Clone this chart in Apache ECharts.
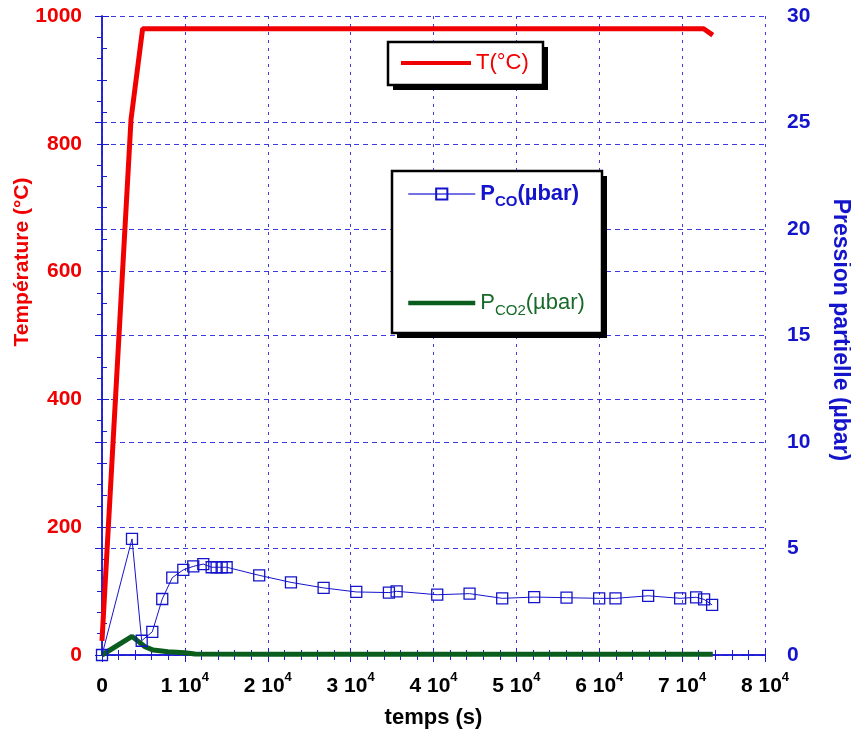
<!DOCTYPE html>
<html><head><meta charset="utf-8">
<script src="https://cdn.jsdelivr.net/npm/echarts@6/dist/echarts.min.js"></script>
<style>html,body{margin:0;padding:0;background:#fff}#c{width:851px;height:731px}</style>
</head><body><div id="c"></div>
<script>
// ---- data ----
const tTime = [0, 3500, 4900, 72600, 73700];
const tTemp = [22, 838, 980, 980, 970];

const coTime = [0, 3620, 4790, 6070, 7270, 8480, 9810, 11010, 12220, 13230, 13830, 14440, 15040,
  18970, 22800, 26740, 30680, 34620, 35550, 40450, 44350, 48290, 52150, 56050, 59990, 61960,
  65900, 69760, 71690, 72650, 73620];
const coP = [0, 5.45, 0.67, 1.09, 2.63, 3.63, 4.0, 4.16, 4.27, 4.12, 4.12, 4.12, 4.12,
  3.74, 3.41, 3.15, 2.96, 2.93, 2.99, 2.83, 2.88, 2.66, 2.72, 2.69, 2.66, 2.66,
  2.78, 2.66, 2.71, 2.61, 2.35];

const co2Time = [0, 3620, 4190, 5190, 6190, 7960, 10010, 11220, 20000, 73700];
const co2P = [0, 0.87, 0.7, 0.39, 0.23, 0.15, 0.11, 0.05, 0.03, 0.03];

const xTickLabels = ['0', '1 10', '2 10', '3 10', '4 10', '5 10', '6 10', '7 10', '8 10'];
const xTickExp = '4';

const seriesNames = ['T(°C)', 'PCO', 'PCO2'];

// ---- chart ----
const FONT = 'Liberation Sans, Arial, Helvetica, sans-serif';
const RED = '#f00000', BLUE = '#1414cc', GREEN = '#0b5d1e', FRAME = '#1a1ad6', GRID = '#3b3be0';
const zip = (a, b) => a.map((v, i) => [v, b[i]]);

const chart = echarts.init(document.getElementById('c'), null, {renderer: 'canvas'});

const frameLine = {show: true, lineStyle: {color: FRAME, width: 1.5}};
const tickIn = {show: true, inside: true, length: 7, lineStyle: {color: FRAME, width: 1}};
const smallTickIn = {show: true, inside: true, length: 5, lineStyle: {color: FRAME, width: 1}};

// tick-only helper axes (small inside ticks)
const tickAxis = (position, min, max, interval) => ({
  type: 'value', position, min, max, interval,
  axisLine: {show: false}, axisTick: smallTickIn,
  splitLine: {show: false}, axisLabel: {show: false}
});

function boxWithShadow(x, y, w, h) {
  return [{
    type: 'rect', z: 1, silent: true, shape: {x: x + 5, y: y + 5, width: w, height: h},
    style: {fill: '#000', stroke: null}
  }, {
    type: 'rect', z: 1, silent: true, shape: {x: x, y: y, width: w, height: h},
    style: {fill: '#fff', stroke: '#000', lineWidth: 2.5}
  }];
}

const option = {
  animation: false,
  backgroundColor: '#fff',
  grid: {left: 102, right: 86, top: 16, bottom: 76, containLabel: false, outerBoundsMode: 'none'},
  xAxis: [{
    type: 'value', position: 'bottom', min: 0, max: 80000, interval: 10000,
    axisLine: frameLine, axisTick: tickIn,
    splitLine: {show: true, lineStyle: {color: GRID, width: 1, type: [3, 5]}},
    axisLabel: {
      margin: 16,
      formatter: (v) => {
        const i = Math.round(v / 10000);
        return i === 0 ? '{a|' + xTickLabels[0] + '}' : '{a|' + xTickLabels[i] + '}{s|' + xTickExp + '}';
      },
      rich: {
        a: {fontFamily: FONT, fontSize: 21, fontWeight: 'bold', color: '#000', lineHeight: 30},
        s: {fontFamily: FONT, fontSize: 13, fontWeight: 'bold', color: '#000', verticalAlign: 'top', lineHeight: 13}
      }
    },
    name: 'temps (s)', nameLocation: 'middle', nameGap: 52,
    nameTextStyle: {fontFamily: FONT, fontSize: 22, fontWeight: 'bold', color: '#000'}
  }, {
    type: 'value', position: 'top', min: 0, max: 80000, interval: 10000,
    axisLine: frameLine, axisTick: tickIn,
    splitLine: {show: false}, axisLabel: {show: false}
  },
    tickAxis('bottom', 0, 80000, 2000),
    tickAxis('top', 0, 80000, 2000)
  ],
  yAxis: [{
    type: 'value', position: 'left', min: 0, max: 1000, interval: 200,
    axisLine: frameLine, axisTick: tickIn,
    splitLine: {show: true, lineStyle: {color: GRID, width: 1, type: [5, 4]}},
    axisLabel: {margin: 20, fontFamily: FONT, fontSize: 21, fontWeight: 'bold', color: RED,
      formatter: (v) => String(v)}
  }, {
    type: 'value', position: 'right', min: 0, max: 30, interval: 5,
    axisLine: frameLine, axisTick: tickIn,
    splitLine: {show: true, lineStyle: {color: GRID, width: 1, type: [5, 4]}},
    axisLabel: {margin: 22, fontFamily: FONT, fontSize: 21, fontWeight: 'bold', color: BLUE,
      formatter: (v) => String(v)}
  },
    tickAxis('left', 0, 1000, 50),
    tickAxis('right', 0, 30, 1)
  ],
  legend: [{
    z: 5,
    data: [{name: seriesNames[0], icon: 'rect'}],
    selectedMode: false, orient: 'vertical', left: 388, top: 42,
    itemWidth: 70, itemHeight: 4, itemGap: 0, textGap: 6,
    padding: [10, 16, 10, 13],
    textStyle: {fontFamily: FONT, fontSize: 22, color: RED}
  }, {
    z: 5,
    data: [
      {name: seriesNames[1], lineStyle: {width: 2, color: '#7272e6'}},
      {name: seriesNames[2], itemStyle: {opacity: 0}, lineStyle: {width: 4.5, color: GREEN}}
    ],
    selectedMode: false, orient: 'vertical', left: 392, top: 171,
    itemWidth: 67, itemHeight: 14, itemGap: 83, textGap: 8,
    padding: [12, 20, 10, 14],
    formatter: (name) => name === 'PCO'
      ? '{pb|P}{sb|CO}{pb|(µbar)}'
      : '{pg|P}{sg|CO2}{pg|(µbar)}',
    textStyle: {
      rich: {
        pb: {fontFamily: FONT, fontSize: 22, fontWeight: 'bold', color: BLUE, lineHeight: 30},
        sb: {fontFamily: FONT, fontSize: 15, fontWeight: 'bold', color: BLUE, verticalAlign: 'bottom', lineHeight: 15},
        pg: {fontFamily: FONT, fontSize: 22, color: '#186a2a', lineHeight: 30},
        sg: {fontFamily: FONT, fontSize: 15, color: '#186a2a', verticalAlign: 'bottom', lineHeight: 15}
      }
    }
  }],
  graphic: [
    ...boxWithShadow(388, 42, 155, 43),
    ...boxWithShadow(392, 171, 210, 162),
    {
      type: 'text', x: 22, y: 262, rotation: Math.PI / 2,
      style: {text: 'Température (°C)', x: 0, y: 0, align: 'center', verticalAlign: 'middle',
        font: 'bold 21px ' + FONT, fill: RED}
    }, {
      type: 'text', x: 840, y: 330, rotation: -Math.PI / 2,
      style: {text: 'Pression partielle (µbar)', x: 0, y: 0, align: 'center', verticalAlign: 'middle',
        font: 'bold 23px ' + FONT, fill: BLUE}
    }
  ],
  series: [{
    name: seriesNames[0], type: 'line', xAxisIndex: 0, yAxisIndex: 0,
    data: zip(tTime, tTemp), symbol: 'none', color: RED,
    lineStyle: {color: RED, width: 5}, z: 3
  }, {
    name: seriesNames[1], type: 'line', xAxisIndex: 0, yAxisIndex: 1,
    data: zip(coTime, coP), symbol: 'rect', symbolSize: 11, color: BLUE,
    itemStyle: {color: 'rgba(255,255,255,0)', borderColor: BLUE, borderWidth: 1.3},
    lineStyle: {color: BLUE, width: 1}, z: 4
  }, {
    name: seriesNames[2], type: 'line', xAxisIndex: 0, yAxisIndex: 1,
    data: zip(co2Time, co2P), symbol: 'none', color: GREEN,
    lineStyle: {color: GREEN, width: 5}, z: 3
  }]
};
chart.setOption(option);
</script></body></html>
